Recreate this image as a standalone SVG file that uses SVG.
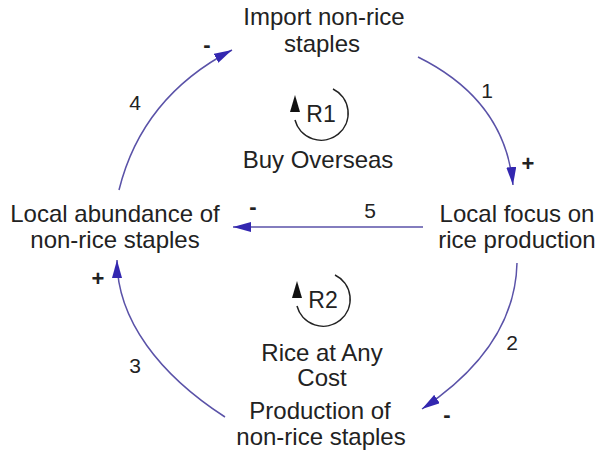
<svg xmlns="http://www.w3.org/2000/svg" width="600" height="467" viewBox="0 0 600 467">
<style>
text{font-family:"Liberation Sans",Arial,sans-serif;fill:#222;text-anchor:middle}
.node{font-size:24px}
.num{font-size:21px}
.sign{font-size:22px;font-weight:bold}
.loop{font-size:23px}
.conn{fill:none;stroke:#5a52a8;stroke-width:1.5}
.sym{fill:none;stroke:#222;stroke-width:1.5}
</style>
<defs>
<marker id="ah" markerWidth="18" markerHeight="10" refX="18" refY="5" orient="auto" markerUnits="userSpaceOnUse">
<path d="M0,0 L18,5 L0,10 z" fill="#3327b0"/>
</marker>
</defs>
<rect width="600" height="467" fill="#fff"/>
<g id="connectors">
<path class="conn" d="M418,57 Q505,100 513,185" marker-end="url(#ah)"/>
<path class="conn" d="M517,263 Q515,347 422,409" marker-end="url(#ah)"/>
<path class="conn" d="M225,417 C160,375 117,320 117,260" marker-end="url(#ah)"/>
<path class="conn" d="M119,190 Q142,97 232,50" marker-end="url(#ah)"/>
<path class="conn" d="M423,227 L233,227" marker-end="url(#ah)"/>
<text class="num" x="487" y="98">1</text>
<text class="sign" x="528" y="171">+</text>
<text class="num" x="512" y="350">2</text>
<text class="sign" x="447" y="422">-</text>
<text class="num" x="135" y="373">3</text>
<text class="sign" x="98" y="286">+</text>
<text class="num" x="135" y="110">4</text>
<text class="sign" x="207" y="52">-</text>
<text class="num" x="370" y="218">5</text>
<text class="sign" x="253" y="214">-</text>
</g>
<g id="import">
<text class="node" x="324" y="25">Import non-rice</text>
<text class="node" x="322" y="52">staples</text>
</g>
<g id="focus">
<text class="node" x="517" y="222">Local focus on</text>
<text class="node" x="517" y="248">rice production</text>
</g>
<g id="abundance">
<text class="node" x="115" y="222">Local abundance of</text>
<text class="node" x="115" y="248">non-rice staples</text>
</g>
<g id="production">
<text class="node" x="320" y="419">Production of</text>
<text class="node" x="321" y="445">non-rice staples</text>
</g>
<g id="loopR1">
<path class="sym" d="M333,89 A27,27 0 1 1 295,120"/>
<polygon points="295,95 290,112 300,112" fill="#111"/>
<text class="loop" x="321" y="122">R1</text>
<text class="node" x="318" y="168">Buy Overseas</text>
</g>
<g id="loopR2">
<path class="sym" d="M335,275 A27,27 0 1 1 297,306"/>
<polygon points="297,281 292,298 302,298" fill="#111"/>
<text class="loop" x="323" y="308">R2</text>
<text class="node" x="322" y="361">Rice at Any</text>
<text class="node" x="322" y="386">Cost</text>
</g>
</svg>
